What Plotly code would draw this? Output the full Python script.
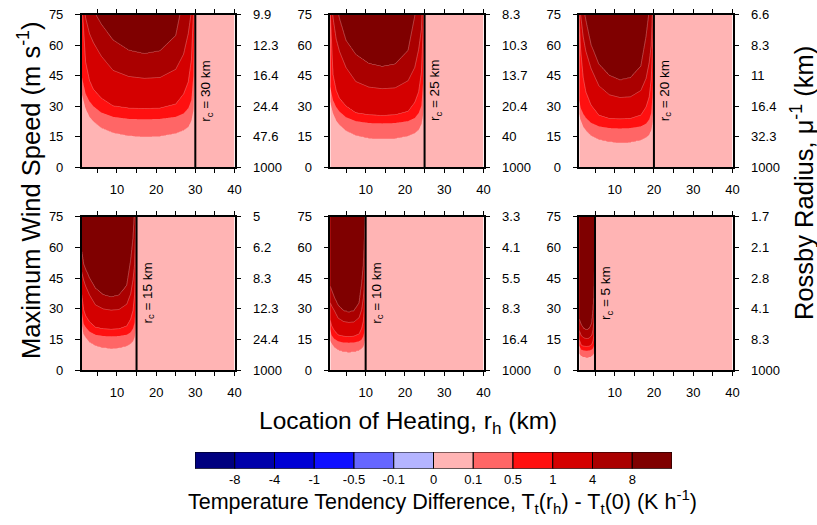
import numpy as np
import plotly.graph_objects as go

W, H = 817, 525
FONT = "Liberation Sans, Arial, sans-serif"

# ---------------- data ----------------
RC = [30, 25, 20, 15, 10, 5]                      # r_c (km) per panel
V_TICKS = [0, 15, 30, 45, 60, 75]                  # max wind speed ticks
X_TICKS = [10, 20, 30, 40]                         # labelled r_h ticks
ROSSBY_30 = ["1000", "47.6", "24.4", "16.4", "12.3", "9.9"]
ROSSBY_25 = ["1000", "40", "20.4", "13.7", "10.3", "8.3"]
ROSSBY_20 = ["1000", "32.3", "16.4", "11", "8.3", "6.6"]
ROSSBY_15 = ["1000", "24.4", "12.3", "8.3", "6.2", "5"]
ROSSBY_10 = ["1000", "16.4", "8.3", "5.5", "4.1", "3.3"]
ROSSBY_5 = ["1000", "8.3", "4.1", "2.8", "2.1", "1.7"]

LEVELS = ["-8", "-4", "-1", "-0.5", "-0.1", "0", "0.1", "0.5", "1", "4", "8"]
COLORS = ["#00007F", "#0000AA", "#0000D4", "#1010FF", "#6666FF", "#B4B4FF",
          "#FFB4B4", "#FF6666", "#FF1010", "#D40000", "#AA0000", "#7F0000"]

# wind speed (m/s) at which the field crosses 0.1, 0.5, 1, 4, 8 K/h,
# read at columns r_h (km) for each panel
X30 = [1, 2, 3, 4, 6, 9, 13, 17, 21, 25, 27, 28.2, 29, 29.5, 29.8]
V30_01 = [36.4, 29, 24.9, 22.7, 19.5, 17.1, 15.6, 15.1, 15.4, 16.8, 18.3, 19.9, 23, 27.9, 43.8]
V30_05 = [44.6, 36.1, 32.3, 30, 26.9, 24.8, 23.8, 23.6, 23.8, 24.8, 26.4, 29, 33, 44.8, 75.5]
V30_1 = [83, 51.7, 42.5, 38.2, 33.9, 30.1, 29, 28.7, 29, 31, 35.9, 41.9, 52.8, 74.6, 91.8]
V30_4 = [87.4, 73.4, 65.6, 61.2, 54.6, 47.6, 44.6, 43.7, 44.1, 48.1, 55.5, 65.6, 76.5, 100.5, 122]
V30_8 = [117, 91.9, 80.8, 76.9, 70.2, 62.4, 57.4, 55.7, 57.1, 64.6, 83.6, 100, 122.5, 145, 167]

X25 = [0.83, 1.67, 2.5, 3.33, 5, 7.5, 10.8, 14.2, 17.5, 20.8, 22.5, 23.5, 24.2, 24.6, 24.8]
V25_01 = [33.7, 26.9, 23.1, 21, 18.1, 15.8, 14.4, 14, 14.3, 15.5, 16.9, 18.5, 21.3, 25.9, 40.6]
V25_05 = [40.8, 33, 29.6, 27.4, 24.6, 22.7, 21.8, 21.6, 21.8, 22.7, 24.2, 26.6, 30.2, 41, 69]
V25_1 = [85, 45.7, 37.6, 33.8, 30, 26.7, 25.7, 25.4, 25.7, 27.4, 31.8, 37.1, 46.7, 66, 81.3]
V25_4 = [90, 74, 63, 57, 49, 42.1, 39.4, 38.6, 39, 42.5, 49, 57.9, 67.6, 88.8, 108]
V25_8 = [105, 88, 80, 73, 62.2, 55.3, 50.9, 49.4, 50.6, 57.3, 74.1, 88.9, 108.7, 128.4, 148.2]

X20 = [0.67, 1.33, 2, 2.67, 4, 6, 8.67, 11.33, 14, 16.67, 18, 18.8, 19.33, 19.67, 19.87]
V20_01 = [29.4, 23.4, 20.1, 18.3, 15.7, 13.8, 12.6, 12.2, 12.4, 13.5, 14.8, 16.1, 18.5, 22.6, 35.4]
V20_05 = [36.1, 29.2, 26.2, 24.3, 21.8, 20.1, 19.3, 19.1, 19.3, 20.1, 21.4, 23.5, 26.7, 36.3, 61.1]
V20_1 = [90, 58, 44, 37, 30.5, 25.5, 23.9, 23.7, 23.9, 25.6, 29.6, 34.6, 43.6, 61.6, 75.8]
V20_4 = [95, 75, 64, 57, 48.5, 40, 35.6, 34.3, 34.6, 37.7, 43.6, 51.5, 60, 78.9, 96]
V20_8 = [100, 88, 79, 72, 60, 50.5, 45, 42.8, 43.9, 49.6, 64.2, 77, 94.2, 111.3, 128.4]

X15 = [1, 1.5, 2, 3, 4.5, 6.5, 8.5, 10.5, 12.5, 13.5, 14.1, 14.5, 14.75, 14.9]
V15_01 = [23, 17.8, 16.2, 13.9, 12.2, 11.1, 10.8, 11.0, 12.0, 13.1, 14.3, 16.4, 20, 31.3]
V15_05 = [29, 22.7, 21.1, 18.9, 17.4, 16.8, 16.6, 16.8, 17.4, 18.6, 20.4, 23.2, 31.5, 53.1]
V15_1 = [37, 29.6, 26.6, 23.6, 21, 20.2, 20, 20.2, 21.6, 25, 29.2, 36.8, 52, 64]
V15_4 = [48, 44.1, 41.2, 36.8, 32, 30, 29.4, 29.7, 32.3, 37.3, 44.1, 51.5, 67.6, 82.3]
V15_8 = [58, 51.8, 49.3, 45, 40, 36.8, 35.7, 36.6, 41.4, 53.6, 64.3, 78.5, 92.8, 107]

X10 = [1, 1.33, 2, 3, 4.33, 5.67, 7, 8.33, 9, 9.4, 9.67, 9.83, 9.93]
V10_01 = [14.7, 13.4, 11.5, 10.1, 9.2, 8.9, 9.1, 9.9, 10.8, 11.7, 13.5, 16.5, 25.8]
V10_05 = [20, 17.1, 15.4, 14.2, 13.6, 13.5, 13.6, 14.2, 15.1, 16.6, 18.9, 25.7, 43.2]
V10_1 = [24.3, 21.8, 19.4, 17.2, 16.6, 16.4, 16.6, 17.7, 20.5, 23.9, 30.2, 42.6, 52.5]
V10_4 = [33, 31.5, 29.3, 25.5, 23.9, 23.4, 23.6, 25.7, 29.7, 35.1, 41, 53.8, 65.5]
V10_8 = [41, 39.1, 35.7, 31.7, 29.1, 28.3, 29, 32.8, 42.5, 50.9, 62.3, 73.6, 84.9]

X5 = [1, 1.5, 2.17, 2.83, 3.5, 4.17, 4.5, 4.7, 4.83, 4.92, 4.97]
V5_01 = [8.3, 7.2, 6.6, 6.4, 6.5, 7.1, 7.7, 8.4, 9.7, 11.8, 18.6]
V5_05 = [12, 10.1, 9.7, 9.6, 9.7, 10.1, 10.8, 11.8, 13.4, 18.2, 30.7]
V5_1 = [15, 12.2, 11.7, 11.6, 11.7, 12.5, 14.5, 16.9, 21.3, 30.2, 37.1]
V5_4 = [19.4, 16.9, 15.8, 15.5, 15.7, 17.1, 19.7, 23.3, 27.1, 35.7, 43.4]
V5_8 = [24.8, 22.1, 20.3, 19.7, 20.2, 22.9, 29.6, 35.5, 43.3, 51.2, 59.1]

PANELS = [
    (X30, [V30_01, V30_05, V30_1, V30_4, V30_8], ROSSBY_30),
    (X25, [V25_01, V25_05, V25_1, V25_4, V25_8], ROSSBY_25),
    (X20, [V20_01, V20_05, V20_1, V20_4, V20_8], ROSSBY_20),
    (X15, [V15_01, V15_05, V15_1, V15_4, V15_8], ROSSBY_15),
    (X10, [V10_01, V10_05, V10_1, V10_4, V10_8], ROSSBY_10),
    (X5, [V5_01, V5_05, V5_1, V5_4, V5_8], ROSSBY_5),
]


def build_field(rc, xcols, curves):
    """Tabulate the level-index field on a grid from the crossing curves.
    Index 6..7 is the 0..0.1 band, 7 = 0.1, 8 = 0.5, 9 = 1, 10 = 4, 11 = 8."""
    xin = np.round(np.arange(1.0, rc - 1e-9, 0.1), 3)
    xg = np.concatenate([xin, [rc, 40.0]])
    vg = np.arange(0.0, 75.01, 0.5)
    z = np.full((vg.size, xg.size), 6.5)
    xc = list(xcols) + [rc]
    th = np.array([np.interp(xin, xc, list(c) + [160 + 10 * k]) for k, c in enumerate(curves)])
    th = np.maximum.accumulate(th + np.arange(5)[:, None] * 1e-3, axis=0)
    for j in range(xin.size):
        t = th[:, j]
        z[:, j] = np.interp(vg, np.r_[t[0] - 60, t, t[-1] + 60],
                            [6.05, 7, 8, 9, 10, 11, 11.95])
    return xg, vg, z


# ---------------- layout geometry (pixels) ----------------
COLS = [(81.7, 234.5), (330.3, 483.5), (579.3, 732.5)]
ROWS = [(14.5, 167.3), (216.7, 370.3)]

fig = go.Figure()
layout = dict(width=W, height=H, margin=dict(l=0, r=0, t=0, b=0, pad=0),
              autosize=False,
              paper_bgcolor="white", plot_bgcolor="white", showlegend=False,
              font=dict(family=FONT, color="black"))
annotations = []
# fill bands from level 7 (0.1) upward; background band (below 7) is pink
fill_scale = [[k / 5, COLORS[6 + k]] for k in range(6)]

for i, rc in enumerate(RC):
    xcols, curves, rossby = PANELS[i]
    r, c = divmod(i, 3)
    x0, x1 = COLS[c]
    y0, y1 = ROWS[r]
    xa, ya, yr = f"x{i + 1}", f"y{i + 1}", f"y{i + 7}"
    xg, vg, z = build_field(rc, xcols, curves)
    z = z.astype(np.float32)
    fig.add_trace(go.Contour(
        x=xg, y=vg, z=z, xaxis=xa, yaxis=ya, autocontour=False,
        contours=dict(start=7, end=11, size=1, coloring="fill", showlines=False),
        colorscale=fill_scale, showscale=False, hoverinfo="skip",
        line=dict(width=0, smoothing=0)))
    fig.add_trace(go.Contour(
        x=xg, y=vg, z=z, xaxis=xa, yaxis=ya, autocontour=False,
        contours=dict(start=9, end=11, size=1, coloring="none", showlines=True),
        showscale=False, hoverinfo="skip",
        line=dict(color="rgba(255,200,200,0.6)", width=0.6, smoothing=0)))
    fig.add_trace(go.Scatter(
        x=[rc, rc], y=[0, 75], xaxis=xa, yaxis=yr, mode="lines",
        line=dict(color="black", width=2), hoverinfo="skip"))
    sfx = "" if i == 0 else str(i + 1)
    layout["xaxis" + sfx] = dict(
        domain=[x0 / W, x1 / W], anchor=ya, range=[1, 40], automargin=False,
        tickvals=X_TICKS, ticks="outside", ticklen=4, tickwidth=1,
        tickcolor="black",
        minor=dict(tickvals=[5, 15, 25, 35], ticks="outside", ticklen=4,
                   tickwidth=1, tickcolor="black", showgrid=False),
        showline=True, linewidth=1.5, linecolor="black", mirror="ticks",
        showgrid=False, zeroline=False, tickfont=dict(size=13),
        ticklabelstandoff=5)
    layout["yaxis" + sfx] = dict(
        domain=[1 - y1 / H, 1 - y0 / H], anchor=xa, range=[0, 75],
        automargin=False,
        tickvals=V_TICKS, ticks="outside", ticklen=5, tickwidth=1,
        tickcolor="black", showline=True, linewidth=1.5, linecolor="black",
        mirror="ticks", showgrid=False, zeroline=False,
        tickfont=dict(size=13), ticklabelstandoff=9)
    layout[f"yaxis{i + 7}"] = dict(
        overlaying=ya, side="right", anchor=xa, range=[0, 75],
        automargin=False,
        tickvals=V_TICKS, ticktext=rossby, ticks="outside", ticklen=5,
        tickwidth=1, tickcolor="black", showline=False, showgrid=False,
        zeroline=False, tickfont=dict(size=13), ticklabelstandoff=10)
    annotations.append(dict(
        x=rc, y=37.5, xref=xa, yref=ya, text=f"r<sub>c</sub> = {rc} km",
        xanchor="center", yanchor="middle",
        textangle=-90, xshift=11.5, showarrow=False, font=dict(size=13.5)))

# colour bar drawn as a row of bars
fig.add_trace(go.Bar(
    x=np.arange(12) + 0.5, y=[1] * 12, width=1, xaxis="x7", yaxis="y13",
    marker=dict(color=COLORS, line=dict(color="black", width=1)),
    hoverinfo="skip"))
layout["xaxis7"] = dict(domain=[195 / W, 672 / W], anchor="y13", range=[0, 12],
                        automargin=False,
                        tickvals=list(range(1, 12)), ticktext=LEVELS, ticks="",
                        showline=False, showgrid=False, zeroline=False,
                        tickfont=dict(size=13), ticklabelstandoff=1)
layout["yaxis13"] = dict(domain=[1 - 468.7 / H, 1 - 452 / H], anchor="x7",
                         range=[0, 1], visible=False, automargin=False)

annotations += [
    dict(x=29 / W, y=1 - 190 / H, xref="paper", yref="paper", textangle=-90,
         xanchor="center", yanchor="middle",
         text="Maximum Wind Speed (m s<sup>-1</sup>)", showarrow=False,
         font=dict(size=25.5)),
    dict(x=802 / W, y=1 - 183 / H, xref="paper", yref="paper", textangle=-90,
         xanchor="center", yanchor="middle",
         text="Rossby Radius, \u03bc<sup>-1</sup> (km)", showarrow=False,
         font=dict(size=25.5)),
    dict(x=407.5 / W, y=1 - 422 / H, xref="paper", yref="paper",
         xanchor="center", yanchor="middle",
         text="Location of Heating, r<sub>h</sub> (km)", showarrow=False,
         font=dict(size=24.5)),
    dict(x=442 / W, y=1 - 501 / H, xref="paper", yref="paper",
         xanchor="center", yanchor="middle",
         text="Temperature Tendency Difference, T<sub>t</sub>(r<sub>h</sub>) - "
              "T<sub>t</sub>(0) (K h<sup>-1</sup>)",
         showarrow=False, font=dict(size=21.5)),
]
layout["annotations"] = annotations
fig.update_layout(**layout)
fig.write_html("out.html")
